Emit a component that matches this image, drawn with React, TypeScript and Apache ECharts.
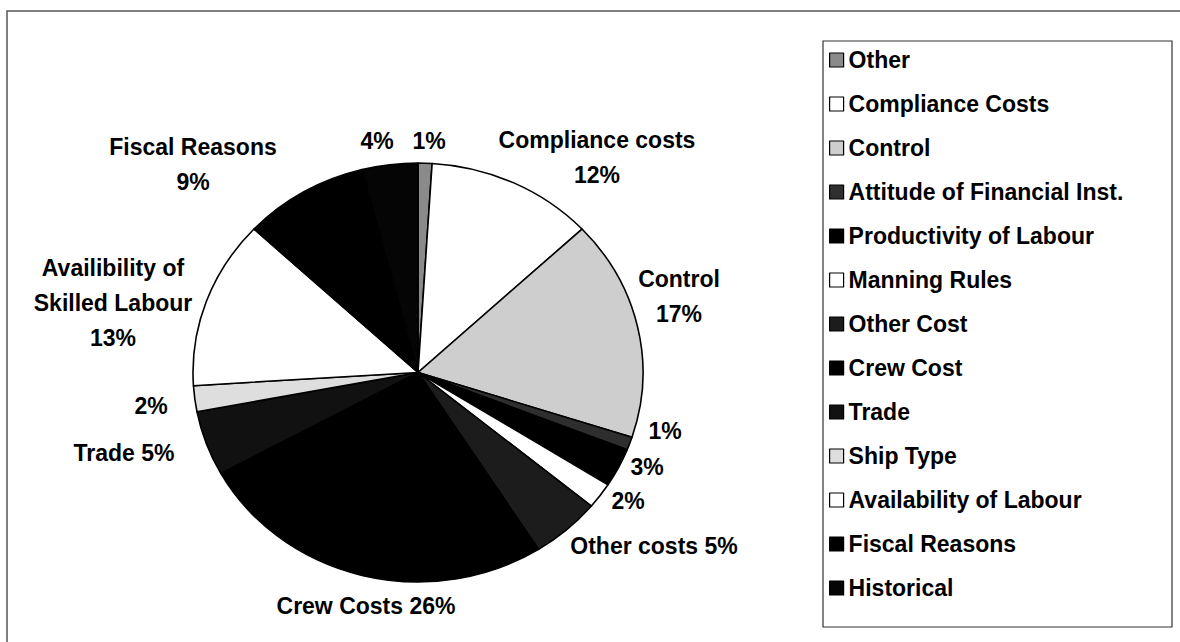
import React, { useEffect, useRef } from "react";
import * as echarts from "echarts";

// ---- data ----
const categories = [
  "Other",
  "Compliance Costs",
  "Control",
  "Attitude of Financial Inst.",
  "Productivity of Labour",
  "Manning Rules",
  "Other Cost",
  "Crew Cost",
  "Trade",
  "Ship Type",
  "Availability of Labour",
  "Fiscal Reasons",
  "Historical",
];
const shares = [1, 12, 17, 1, 3, 2, 5, 26, 5, 2, 13, 9, 4];
const labelPrefixes = [
  "",
  "Compliance costs\n",
  "Control\n",
  "",
  "",
  "",
  "Other costs ",
  "Crew Costs ",
  "Trade ",
  "",
  "Availibility of\nSkilled Labour\n",
  "Fiscal Reasons\n",
  "",
];

// ---- styles / layout ----
const sliceColors = [
  "#8a8a8a",
  "#ffffff",
  "#cecece",
  "#2e2e2e",
  "#000000",
  "#ffffff",
  "#1c1c1c",
  "#000000",
  "#111111",
  "#dedede",
  "#ffffff",
  "#000000",
  "#050505",
];
const labelAnchors: [number, number][] = [
  [429, 141],
  [597, 157],
  [679, 296],
  [665, 431],
  [647, 467],
  [628, 501],
  [654, 546],
  [366, 606],
  [124, 453],
  [151, 406],
  [113, 303],
  [193, 164],
  [377, 141],
];

const FONT = "'Liberation Sans', Arial, sans-serif";
const CX = 418;
const CY = 372.5;
const RX = 225;
const RY = 209.5;

const pieData = () =>
  categories.map((name, i) => ({
    name,
    value: shares[i],
    itemStyle: { color: sliceColors[i] },
    label: { lineHeight: labelPrefixes[i].includes("\n") ? 35 : 22 },
  }));

export default function App() {
  const pieRef = useRef<HTMLDivElement>(null);
  const topRef = useRef<HTMLDivElement>(null);
  useEffect(() => {
    if (!pieRef.current || !topRef.current) return;
    // layer 1: the pie itself (squashed vertically by CSS into an ellipse)
    const pie = echarts.init(pieRef.current, undefined, { renderer: "svg" });
    pie.setOption({
      animation: false,
      series: [
        {
          type: "pie",
          center: [CX, CY],
          radius: RX,
          startAngle: 90,
          clockwise: true,
          itemStyle: { borderColor: "#000", borderWidth: 1.6 },
          emphasis: { disabled: true },
          label: { show: false },
          labelLine: { show: false },
          data: pieData(),
        },
      ],
    });
    // layer 2: frames, legend and labels
    const top = echarts.init(topRef.current, undefined, { renderer: "svg" });
    top.setOption({
      animation: false,
      backgroundColor: "transparent",
      graphic: [
        {
          type: "rect",
          shape: { x: 7, y: 11, width: 1200, height: 700 },
          style: { fill: "none", stroke: "#555", lineWidth: 1.5 },
          silent: true,
        },
        {
          type: "rect",
          shape: { x: 823, y: 41, width: 349, height: 586 },
          style: { fill: "none", stroke: "#333", lineWidth: 1.2 },
          silent: true,
        },
      ],
      legend: {
        orient: "vertical",
        left: 829,
        top: 48,
        padding: 0,
        itemWidth: 14,
        itemHeight: 14,
        itemGap: 20,
        icon: "rect",
        data: categories,
        selectedMode: false,
        itemStyle: { opacity: 1, borderColor: "#000", borderWidth: 1.2 },
        textStyle: {
          fontFamily: FONT,
          fontWeight: "bold",
          fontSize: 23,
          lineHeight: 24,
          color: "#000",
        },
      },
      series: [
        {
          type: "pie",
          center: [CX, CY],
          radius: RX,
          startAngle: 90,
          clockwise: true,
          avoidLabelOverlap: false,
          silent: true,
          itemStyle: { opacity: 0, borderWidth: 0 },
          emphasis: { disabled: true },
          label: {
            show: true,
            opacity: 1,
            position: "outside",
            fontFamily: FONT,
            fontWeight: "bold",
            fontSize: 23,
            lineHeight: 35,
            color: "#000",
            align: "center",
            formatter: (p: any) => `${labelPrefixes[p.dataIndex]}${p.value}%`,
          },
          labelLine: { show: false },
          labelLayout: (p: any) => {
            const a = labelAnchors[p.dataIndex];
            return { x: a[0], y: a[1], align: "center", verticalAlign: "middle", hideOverlap: false };
          },
          data: pieData(),
        },
      ],
    });
    return () => {
      pie.dispose();
      top.dispose();
    };
  }, []);
  const base: React.CSSProperties = { position: "fixed", left: 0, top: 0, width: 1180, height: 642 };
  return (
    <div style={{ ...base, background: "#fff" }}>
      <div
        ref={pieRef}
        style={{ ...base, transform: `scaleY(${RY / RX})`, transformOrigin: `0px ${CY}px` }}
      />
      <div ref={topRef} style={{ ...base }} />
    </div>
  );
}
